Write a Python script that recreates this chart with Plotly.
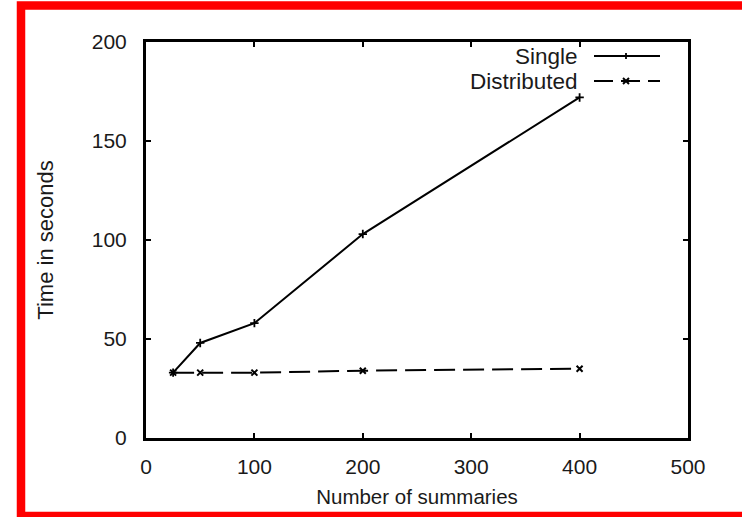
import plotly.graph_objects as go

# ---- data ----
summaries = [25, 50, 100, 200, 400]
single_time = [33, 48, 58, 103, 172]
distributed_time = [33, 33, 33, 34, 35]
x_ticks = [0, 100, 200, 300, 400, 500]
y_ticks = [0, 50, 100, 150, 200]
series_names = ["Single", "Distributed"]

W, H = 742, 517
L, R, T, B = 146, 688, 42, 438   # plot area in pixels
FONT = "Liberation Sans, Arial, Helvetica, sans-serif"
TXT = "#1a1a1a"


def px(xp):
    return (xp - L) / (R - L)


def py(yp):
    return (B - yp) / (B - T)


fig = go.Figure()
fig.add_trace(go.Scatter(
    x=summaries, y=single_time, mode="lines+markers", name=series_names[0],
    line=dict(color="black", width=2),
    marker=dict(symbol="cross-thin", size=6, line=dict(color="black", width=1.8)),
    showlegend=False,
))
fig.add_trace(go.Scatter(
    x=summaries, y=distributed_time, mode="lines+markers", name=series_names[1],
    line=dict(color="black", width=2, dash="21px,8px"),
    marker=dict(symbol="x-thin", size=6, line=dict(color="black", width=2)),
    showlegend=False,
))

axis_common = dict(
    showline=True, linecolor="black", linewidth=3, mirror="ticks",
    ticks="inside", ticklen=5, tickwidth=2, tickcolor="black",
    showgrid=False, zeroline=False,
    tickfont=dict(family=FONT, size=21, color=TXT),
)

fig.update_xaxes(range=[0, 500], tickvals=x_ticks, ticklabelstandoff=8,
                 title=dict(text="Number of summaries", standoff=13,
                            font=dict(family=FONT, size=20.5, color=TXT)),
                 **axis_common)
fig.update_yaxes(range=[0, 200], tickvals=y_ticks, ticklabelstandoff=12,
                 title=dict(text="Time in seconds", standoff=33,
                            font=dict(family=FONT, size=22, color=TXT)),
                 **axis_common)

shapes = []
annotations = []
# custom gnuplot-style key: text right-aligned, sample on the right
key_rows = [(series_names[0], 56, "solid"), (series_names[1], 81, "19px,8px")]
for name, yy, dash in key_rows:
    annotations.append(dict(
        xref="paper", yref="paper", x=px(580), y=py(yy), text=name,
        showarrow=False, xanchor="right", yanchor="middle",
        font=dict(family=FONT, size=22.5, color=TXT),
    ))
    shapes.append(dict(type="line", xref="paper", yref="paper",
                       x0=px(594), x1=px(660), y0=py(yy), y1=py(yy),
                       line=dict(color="black", width=2, dash=dash)))
# key markers
mx = 626
# "+"
shapes.append(dict(type="line", xref="paper", yref="paper",
                   x0=px(mx), x1=px(mx), y0=py(56 - 3), y1=py(56 + 3),
                   line=dict(color="black", width=1.8)))
# "x"
for d in (1, -1):
    shapes.append(dict(type="line", xref="paper", yref="paper",
                       x0=px(mx - 3), x1=px(mx + 3),
                       y0=py(81 - 3 * d), y1=py(81 + 3 * d),
                       line=dict(color="black", width=2)))

# red frame
shapes.append(dict(type="rect", xref="paper", yref="paper",
                   x0=px(21), x1=px(770), y0=py(516), y1=py(5.5),
                   line=dict(color="#ff0000", width=8.5), layer="above"))

fig.update_layout(
    width=W, height=H,
    margin=dict(l=L, r=W - R, t=T, b=H - B, pad=0),
    paper_bgcolor="white", plot_bgcolor="white",
    shapes=shapes, annotations=annotations,
    showlegend=False,
)

fig.write_html("out.html")
